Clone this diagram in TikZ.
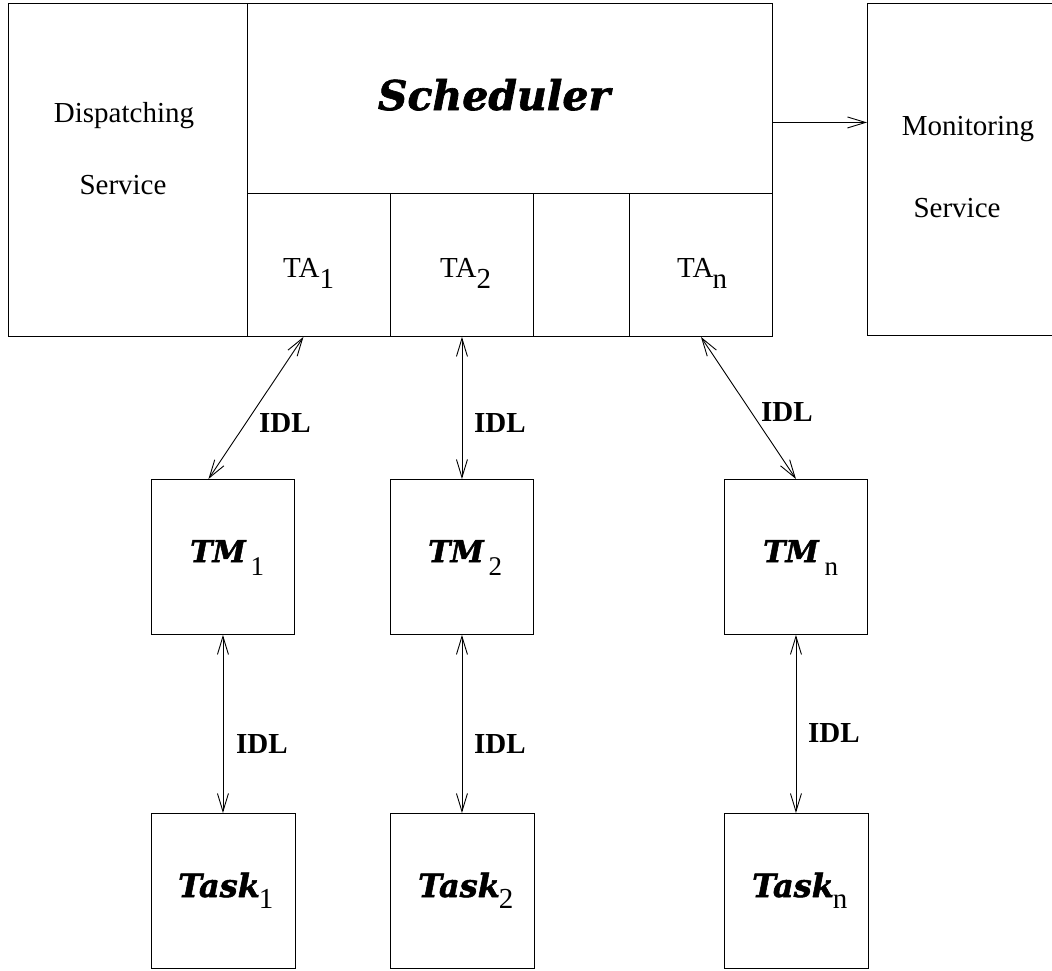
\documentclass[tikz,border=0pt]{standalone}
\usepackage{fontspec}
\setmainfont{Liberation Serif}
\newfontfamily\dvs{DejaVu Serif}[BoldItalicFeatures={FakeBold=1.6}]
\usetikzlibrary{arrows.meta}
\newcommand{\bix}[1]{{\dvs\bfseries\itshape #1}}
\begin{document}
\begin{tikzpicture}[x=1pt,y=-1pt,
  box/.style={draw,line width=0.9pt,inner sep=0pt,anchor=north west},
  lbl/.style={inner sep=0pt,font=\fontsize{29pt}{34pt}\selectfont},
  idl/.style={lbl,anchor=base west,font=\fontsize{29pt}{34pt}\selectfont\bfseries},
  arr/.style={line width=0.9pt,>={Straight Barb[length=18pt,width=11pt,line width=0.9pt]}}
]
\clip (0,0) rectangle (1052,970);
% boxes
\node[box,minimum width=239pt,minimum height=333pt] (disp) at (8,3) {};
\node[box,minimum width=525pt,minimum height=190pt] (sched) at (247,3) {};
\node[box,minimum width=143pt,minimum height=143pt] (ta1) at (247,193) {};
\node[box,minimum width=143pt,minimum height=143pt] (ta2) at (390,193) {};
\node[box,minimum width=96pt,minimum height=143pt] (tag) at (533,193) {};
\node[box,minimum width=143pt,minimum height=143pt] (tan) at (629,193) {};
\node[box,minimum width=220pt,minimum height=332pt] (mon) at (867,3) {};
\node[box,minimum width=143pt,minimum height=155pt] (tm1) at (151,479) {};
\node[box,minimum width=143pt,minimum height=155pt] (tm2) at (390,479) {};
\node[box,minimum width=143pt,minimum height=155pt] (tmn) at (724,479) {};
\node[box,minimum width=144pt,minimum height=155pt] (task1) at (151,813) {};
\node[box,minimum width=144pt,minimum height=155pt] (task2) at (390,813) {};
\node[box,minimum width=144pt,minimum height=155pt] (taskn) at (724,813) {};
% texts
\node[lbl,anchor=base] (t-disp) at (124,122) {Dispatching};
\node[lbl,anchor=base] (t-dserv) at (123,194) {Service};
\node[lbl,anchor=base] (t-mon) at (968,135) {Monitoring};
\node[lbl,anchor=base] (t-mserv) at (957,217) {Service};
\node[lbl,anchor=base,font=\fontsize{41pt}{48pt}\selectfont] (t-sched) at (494,110) {\bix{Scheduler}};
\node[lbl,anchor=base west] (t-ta1) at (283,277) {TA\raisebox{-11pt}{1}};
\node[lbl,anchor=base west] (t-ta2) at (440,277) {TA\raisebox{-11pt}{2}};
\node[lbl,anchor=base west] (t-tan) at (677,277) {TA\kern-1pt\raisebox{-11pt}{n}};
\node[lbl,anchor=base west] (t-tm1) at (190,562) {{\fontsize{30pt}{34pt}\selectfont\bix{TM}}\kern5pt\raisebox{-13pt}{\fontsize{27pt}{30pt}\selectfont 1}};
\node[lbl,anchor=base west] (t-tm2) at (428,562) {{\fontsize{30pt}{34pt}\selectfont\bix{TM}}\kern5pt\raisebox{-13pt}{\fontsize{27pt}{30pt}\selectfont 2}};
\node[lbl,anchor=base west] (t-tmn) at (763,562) {{\fontsize{30pt}{34pt}\selectfont\bix{TM}}\kern6pt\raisebox{-13pt}{\fontsize{27pt}{30pt}\selectfont n}};
\node[lbl,anchor=base west] (t-task1) at (178,897) {{\fontsize{32pt}{36pt}\selectfont\bix{Task}}\kern-1pt\raisebox{-11pt}{1}};
\node[lbl,anchor=base west] (t-task2) at (418,897) {{\fontsize{32pt}{36pt}\selectfont\bix{Task}}\kern-1pt\raisebox{-11pt}{2}};
\node[lbl,anchor=base west] (t-taskn) at (752,897) {{\fontsize{32pt}{36pt}\selectfont\bix{Task}}\kern-1pt\raisebox{-11pt}{n}};
\node[idl] (idl1) at (259,432) {IDL};
\node[idl] (idl2) at (474,432) {IDL};
\node[idl] (idln) at (761,421) {IDL};
\node[idl] (idl1b) at (236,753) {IDL};
\node[idl] (idl2b) at (474,753) {IDL};
\node[idl] (idlnb) at (808,742) {IDL};
% connectors
\coordinate (sm) at ([yshift=-24pt]sched.east);
\draw[arr,->] (sm) -- (sm -| mon.west);
\draw[arr,<->] ([xshift=-15.5pt]ta1.south) -- ([xshift=-14.5pt]tm1.north);
\draw[arr,<->] (ta2.south) -- (tm2.north);
\draw[arr,<->] (tan.south) -- (tmn.north);
\draw[arr,<->] (tm1.south) -- (tm1.south |- task1.north);
\draw[arr,<->] (tm2.south) -- (tm2.south |- task2.north);
\draw[arr,<->] (tmn.south) -- (tmn.south |- taskn.north);
\end{tikzpicture}
\end{document}
